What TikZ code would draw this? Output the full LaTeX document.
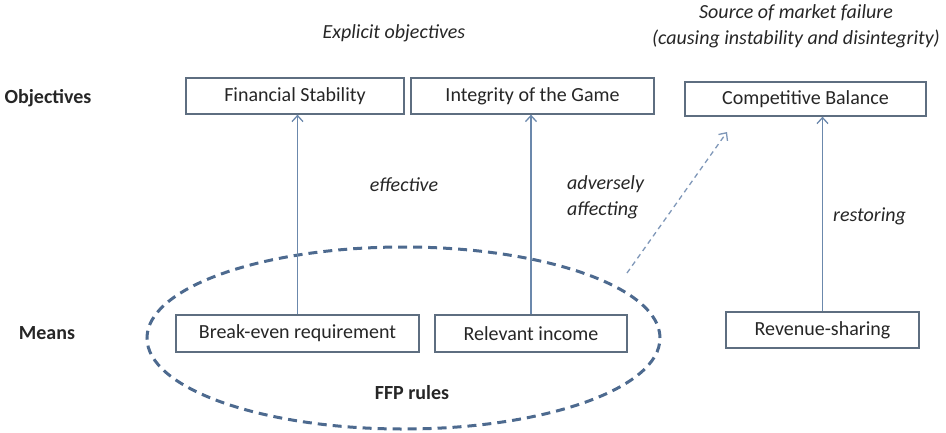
\documentclass[tikz,border=0pt]{standalone}
\usepackage{fontspec}
\setmainfont{Carlito}
\usetikzlibrary{arrows.meta,shapes.geometric}
\definecolor{txt}{HTML}{262626}
\definecolor{boxc}{HTML}{5E6E80}
\definecolor{arr}{HTML}{6B88AC}
\definecolor{ffpc}{HTML}{4D6A8F}
\definecolor{darr}{HTML}{7F97B8}
\begin{document}
\begin{tikzpicture}[x=1pt,y=-1pt,
  font=\fontsize{20}{24}\selectfont, text=txt,
  boxn/.style={draw=boxc, line width=1.3pt, fill=white, rectangle, inner sep=0pt, anchor=center},
  lbl/.style={font=\fontsize{20}{24}\selectfont\bfseries, inner sep=0pt},
  itl/.style={font=\fontsize{20}{26}\selectfont\itshape, inner sep=0pt},
  uparr/.style={draw=arr, line width=1.3pt, -{Straight Barb[length=6pt,width=11pt,line width=1.3pt]}},
  ffpring/.style={draw=ffpc, line width=3pt, dash pattern=on 9pt off 6pt, ellipse, inner sep=0pt},
  dasharr/.style={draw=darr, line width=1.3pt, dash pattern=on 5pt off 4pt, -{Straight Barb[length=6pt,width=11pt,line width=1.3pt]}}]
\useasboundingbox (0,0) rectangle (946,432);
% ellipse
\node[ffpring, minimum width=513pt, minimum height=182pt] (ffp) at (403.5,338) {};
% boxes
\node[boxn, minimum width=218pt, minimum height=36pt] (fs) at (295,96) {Financial Stability};
\node[boxn, minimum width=243pt, minimum height=36pt] (ig) at (532.5,96) {Integrity of the Game};
\node[boxn, minimum width=241pt, minimum height=34pt] (cb) at (805.5,99) {Competitive Balance};
\node[boxn, minimum width=243pt, minimum height=37pt] (be) at (297.5,333.5) {Break-even requirement};
\node[boxn, minimum width=192pt, minimum height=37pt] (ri) at (531,333.5) {Relevant income};
\node[boxn, minimum width=193pt, minimum height=36pt] (rs) at (822.5,330) {Revenue-sharing};
% labels
\node[lbl] (obj) at (48,98) {Objectives};
\node[lbl] (means) at (47,333) {Means};
\node[lbl] (ffpl) at (412,393) {FFP rules};
\node[itl] (expl) at (394,33) {Explicit objectives};
\node[itl, align=center] (src) at (796,26) {Source of market failure\\(causing instability and disintegrity)};
\node[itl] (eff) at (404,185) {effective};
\node[itl, align=left, anchor=west] (adv) at (567,197) {adversely\\affecting};
\node[itl, anchor=west] (rest) at (833,216) {restoring};
% arrows
\draw[uparr] (be.north) -- (be.north |- fs.south);
\draw[uparr] (ri.north) -- (ri.north |- ig.south);
\draw[uparr] (rs.north) -- (rs.north |- cb.south);
\coordinate (ds) at (627,273);
\coordinate (de) at (727,132);
\draw[dasharr] (ds) -- (de);
\end{tikzpicture}
\end{document}
